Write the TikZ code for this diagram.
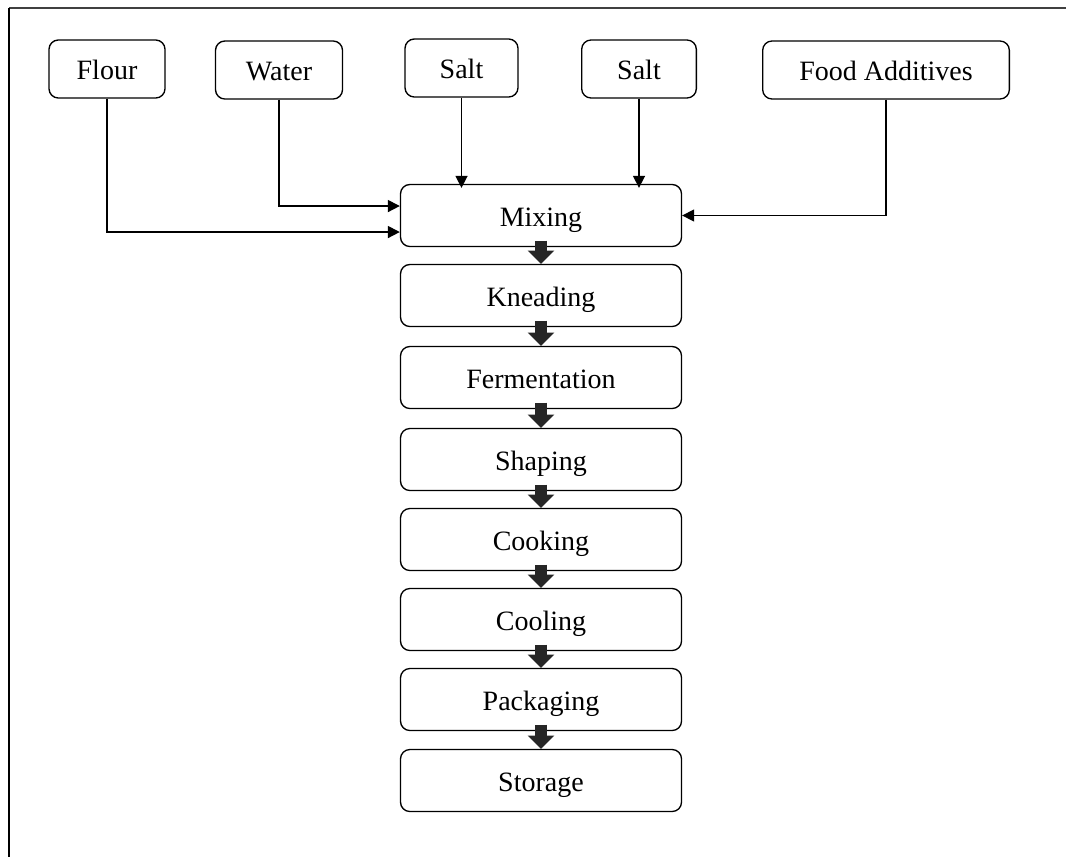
\documentclass[tikz,border=0pt]{standalone}
\usepackage{fontspec}
\setmainfont{Liberation Serif}
\usetikzlibrary{arrows.meta}
\begin{document}
\begin{tikzpicture}[x=0.75pt, y=-0.75pt, line width=1pt,
  box/.style={draw, rounded corners=7pt, minimum height=43.5pt, text height=20pt, text depth=4pt, font=\fontsize{21}{25}\selectfont},
  stepbox/.style={box, minimum height=46.5pt, minimum width=210.75pt},
  feed/.style={line width=1.2pt, -{Triangle[length=9pt,width=9pt]}},
  flow/.style={line width=9pt, black!85, -{Triangle[length=10pt,width=19.5pt]}}] %frame
\useasboundingbox (0,0) rectangle (1066,857);
\draw[line width=0.8pt, black!75] (1066,8) -- (9,8);
\draw[line width=1.2pt] (9,8) -- (9,857);
\node[box, minimum width=87pt] (I_0) at (107,69) {Flour};
\node[box, minimum width=95.25pt] (I_1) at (279,70) {Water};
\node[box, minimum width=84.75pt] (I_2) at (461.5,68) {Salt};
\node[box, minimum width=86pt] (I_3) at (639,69) {Salt};
\node[box, minimum width=185pt] (I_4) at (886,70) {Food Additives};
\node[stepbox] (S_0) at (541,215.5) {Mixing};
\draw[feed] (I_0.south) |- ([yshift=-12.4pt]S_0.west);
\draw[feed] (I_1.south) |- ([yshift=7.1pt]S_0.west);
\draw[feed] (I_2.south) -- ([yshift=-3pt]I_2.south |- S_0.north);
\draw[feed] (I_3.south) -- ([yshift=-3pt]I_3.south |- S_0.north);
\draw[feed] (I_4.south) |- (S_0.east);
\node[stepbox] (S_1) at (541,295.5) {Kneading};
\draw[flow] ([yshift=5pt]S_0.south) -- (S_1.north);
\node[stepbox] (S_2) at (541,377.5) {Fermentation};
\draw[flow] ([yshift=5pt]S_1.south) -- (S_2.north);
\node[stepbox] (S_3) at (541,459.5) {Shaping};
\draw[flow] ([yshift=5pt]S_2.south) -- (S_3.north);
\node[stepbox] (S_4) at (541,539.5) {Cooking};
\draw[flow] ([yshift=5pt]S_3.south) -- (S_4.north);
\node[stepbox] (S_5) at (541,619.5) {Cooling};
\draw[flow] ([yshift=5pt]S_4.south) -- (S_5.north);
\node[stepbox] (S_6) at (541,699.5) {Packaging};
\draw[flow] ([yshift=5pt]S_5.south) -- (S_6.north);
\node[stepbox] (S_7) at (541,780.5) {Storage};
\draw[flow] ([yshift=5pt]S_6.south) -- (S_7.north);
\end{tikzpicture}
\end{document}
